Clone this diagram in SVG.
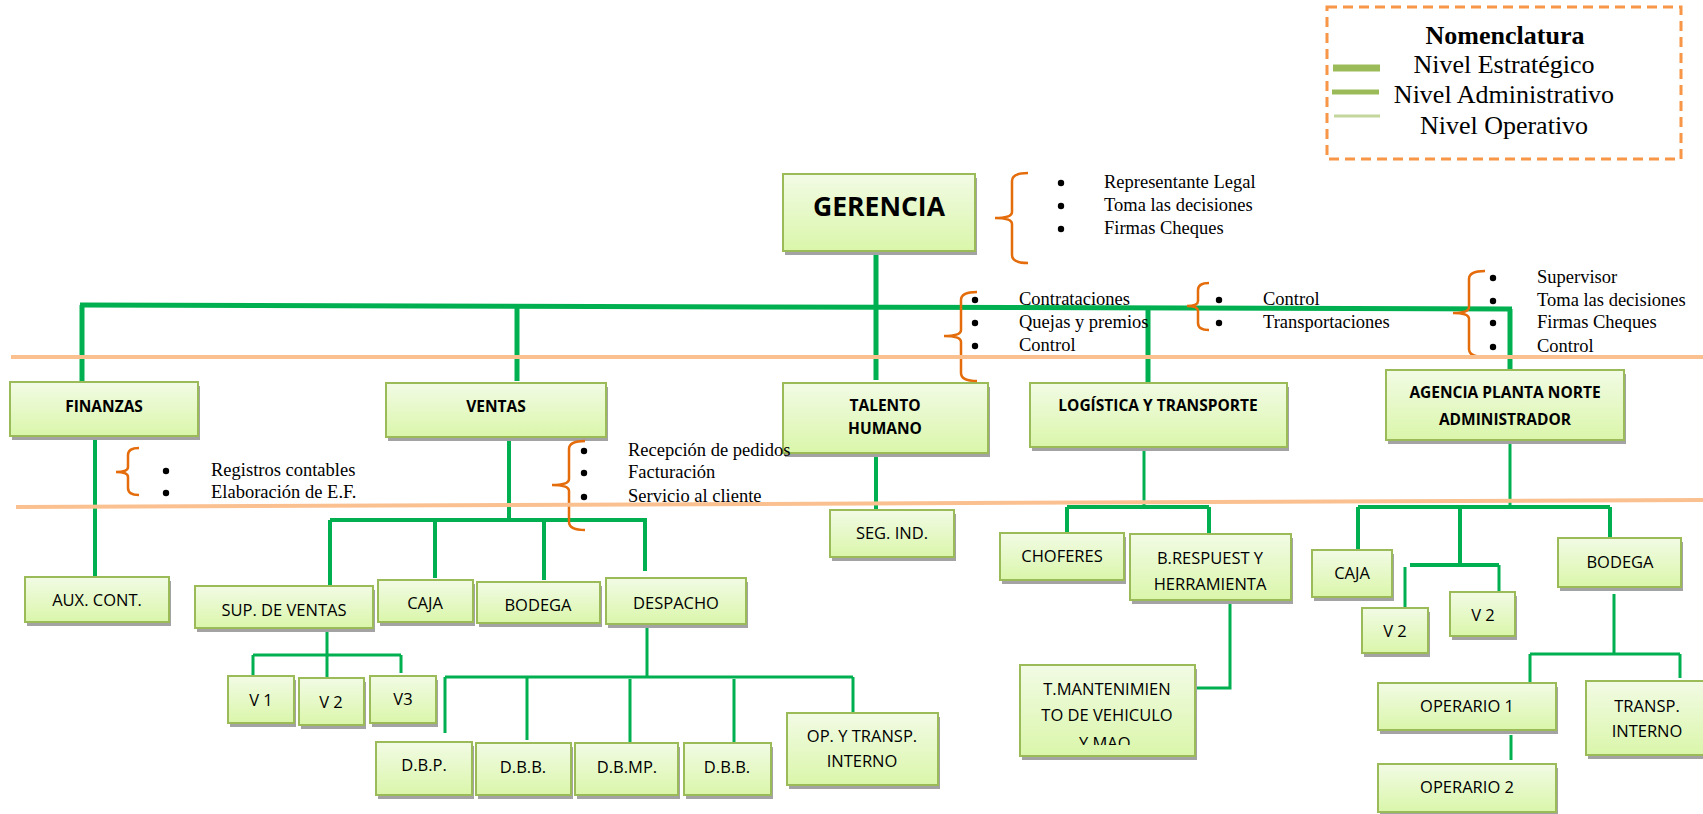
<svg xmlns="http://www.w3.org/2000/svg" width="1703" height="814" viewBox="0 0 1703 814">
<defs>
<linearGradient id="g" x1="0" y1="0" x2="0" y2="1">
<stop offset="0" stop-color="#F2FBE5"/>
<stop offset="1" stop-color="#DAF6AA"/>
</linearGradient>
<clipPath id="clipT"><rect x="1020" y="665" width="175" height="80"/></clipPath>
<style>
.bx{fill:url(#g);stroke:#9BBB59;stroke-width:2}
.sh{fill:#A3A3A3}
.t{font-family:"Open Sans","Liberation Sans",sans-serif;font-size:16.5px;fill:#000;text-anchor:middle}
.tb{font-family:"Open Sans","Liberation Sans",sans-serif;font-size:15.5px;font-weight:bold;fill:#000;text-anchor:middle}
.c{stroke:#00B050;fill:none;stroke-linecap:butt}
.w5{stroke-width:5}
.w4{stroke-width:4}
.w3{stroke-width:3}
.ol{stroke:#FAC090;stroke-width:4;fill:none}
.br{stroke:#E46C0A;stroke-width:2.5;fill:none}
.l{font-family:"Liberation Serif","Times New Roman",serif;font-size:18.5px;fill:#000}
.bu{fill:#000}
.lg{font-family:"Liberation Serif","Times New Roman",serif;font-size:26px;fill:#000;text-anchor:middle}
</style>
</defs>
<rect width="1703" height="814" fill="#FFFFFF"/>

<g id="connectors">
<path class="c w5" d="M876,251 V380"/>
<path class="c w5" d="M80,305 L1512,309"/>
<path class="c w5" d="M82,305 V382"/>
<path class="c w5" d="M517,306 V381"/>
<path class="c w5" d="M1148,308 V382"/>
<path class="c w5" d="M1510,309 V370"/>
<path class="c w4" d="M95,436 V577"/>
<path class="c w4" d="M509,437 V520 M330,520 H647 M330,520 V586 M435,522 V578 M544,522 V580 M645,520 V571"/>
<path class="c w4" d="M876,453 V510"/>
<path class="c w3" d="M1144,447 V505"/>
<path class="c w4" d="M1067,507 H1209 M1067,507 V533 M1209,507 V534"/>
<path class="c w3" d="M1510,440 V507"/>
<path class="c w4" d="M1358,507 H1610 M1358,507 V550 M1460,509 V563 M1610,507 V538"/>
<path class="c w3" d="M327,628 V678 M253,655 H401 M253,655 V676 M401,655 V673"/>
<path class="c w3" d="M647,624 V677 M445,677 H853 M445,677 V733 M527,677 V740 M630,679 V742 M734,679 V742 M853,677 V713"/>
<path class="c w3" d="M1230,600 V688 H1191"/>
<path class="c w4" d="M1410,565 H1499"/>
<path class="c w3" d="M1405,567 V607 M1499,565 V593"/>
<path class="c w3" d="M1614,594 V654 M1530,654 H1680 M1530,654 V682 M1680,654 V678"/>
<path class="c w3" d="M1511,735 V760"/>
</g>

<g id="gerencia"><rect class="sh" x="785" y="178" width="192" height="77"/><rect class="bx" x="783" y="174" width="192" height="77"/><text class="tb" style="font-size:26.5px" x="879" y="216">GERENCIA</text></g>
<g id="finanzas"><rect class="sh" x="12" y="386" width="188" height="54"/><rect class="bx" x="10" y="382" width="188" height="54"/><text class="tb" x="104" y="412">FINANZAS</text></g>
<g id="ventas"><rect class="sh" x="388" y="387" width="220" height="54"/><rect class="bx" x="386" y="383" width="220" height="54"/><text class="tb" x="496" y="412">VENTAS</text></g>
<g id="talento"><rect class="sh" x="785" y="387" width="205" height="70"/><rect class="bx" x="783" y="383" width="205" height="70"/><text class="tb" x="885" y="411">TALENTO</text><text class="tb" x="885" y="434">HUMANO</text></g>
<g id="logistica"><rect class="sh" x="1032" y="387" width="257" height="64"/><rect class="bx" x="1030" y="383" width="257" height="64"/><text class="tb" x="1158" y="411">LOGÍSTICA Y TRANSPORTE</text></g>
<g id="agencia"><rect class="sh" x="1388" y="374" width="238" height="70"/><rect class="bx" x="1386" y="370" width="238" height="70"/><text class="tb" x="1505" y="398">AGENCIA PLANTA NORTE</text><text class="tb" x="1505" y="425">ADMINISTRADOR</text></g>

<g id="aux"><rect class="sh" x="27" y="581" width="144" height="45"/><rect class="bx" x="25" y="577" width="144" height="45"/><text class="t" x="97" y="606">AUX. CONT.</text></g>
<g id="supventas"><rect class="sh" x="197" y="590" width="178" height="42"/><rect class="bx" x="195" y="586" width="178" height="42"/><text class="t" x="284" y="616">SUP. DE VENTAS</text></g>
<g id="caja1"><rect class="sh" x="380" y="584" width="95" height="42"/><rect class="bx" x="378" y="580" width="95" height="42"/><text class="t" x="425" y="609">CAJA</text></g>
<g id="bodega1"><rect class="sh" x="479" y="586" width="123" height="41"/><rect class="bx" x="477" y="582" width="123" height="41"/><text class="t" x="538" y="611">BODEGA</text></g>
<g id="despacho"><rect class="sh" x="608" y="582" width="140" height="46"/><rect class="bx" x="606" y="578" width="140" height="46"/><text class="t" x="676" y="609">DESPACHO</text></g>
<g id="v1"><rect class="sh" x="230" y="680" width="66" height="47"/><rect class="bx" x="228" y="676" width="66" height="47"/><text class="t" x="261" y="706">V 1</text></g>
<g id="v2"><rect class="sh" x="301" y="682" width="65" height="47"/><rect class="bx" x="299" y="678" width="65" height="47"/><text class="t" x="331" y="708">V 2</text></g>
<g id="v3"><rect class="sh" x="372" y="680" width="66" height="47"/><rect class="bx" x="370" y="676" width="66" height="47"/><text class="t" x="403" y="705">V3</text></g>
<g id="dbp"><rect class="sh" x="378" y="746" width="96" height="53"/><rect class="bx" x="376" y="742" width="96" height="53"/><text class="t" x="424" y="771">D.B.P.</text></g>
<g id="dbb1"><rect class="sh" x="478" y="747" width="95" height="52"/><rect class="bx" x="476" y="743" width="95" height="52"/><text class="t" x="523" y="773">D.B.B.</text></g>
<g id="dbmp"><rect class="sh" x="577" y="747" width="103" height="52"/><rect class="bx" x="575" y="743" width="103" height="52"/><text class="t" x="627" y="773">D.B.MP.</text></g>
<g id="dbb2"><rect class="sh" x="686" y="747" width="87" height="52"/><rect class="bx" x="684" y="743" width="87" height="52"/><text class="t" x="727" y="773">D.B.B.</text></g>
<g id="optransp"><rect class="sh" x="789" y="717" width="151" height="72"/><rect class="bx" x="787" y="713" width="151" height="72"/><text class="t" x="862" y="742">OP. Y TRANSP.</text><text class="t" x="862" y="767">INTERNO</text></g>
<g id="segind"><rect class="sh" x="832" y="514" width="124" height="47"/><rect class="bx" x="830" y="510" width="124" height="47"/><text class="t" x="892" y="539">SEG. IND.</text></g>
<g id="choferes"><rect class="sh" x="1002" y="537" width="124" height="47"/><rect class="bx" x="1000" y="533" width="124" height="47"/><text class="t" x="1062" y="562">CHOFERES</text></g>
<g id="brespuest"><rect class="sh" x="1132" y="538" width="161" height="66"/><rect class="bx" x="1130" y="534" width="161" height="66"/><text class="t" x="1210" y="564">B.RESPUEST Y</text><text class="t" x="1210" y="590">HERRAMIENTA</text></g>
<g id="tmant"><rect class="sh" x="1022" y="669" width="175" height="91"/><rect class="bx" x="1020" y="665" width="175" height="91"/><text class="t" x="1107" y="695">T.MANTENIMIEN</text><text class="t" x="1107" y="721">TO DE VEHICULO</text><text class="t" x="1107" y="749" clip-path="url(#clipT)">Y MAQ.</text></g>
<g id="caja2"><rect class="sh" x="1314" y="554" width="80" height="47"/><rect class="bx" x="1312" y="550" width="80" height="47"/><text class="t" x="1352" y="579">CAJA</text></g>
<g id="v2a"><rect class="sh" x="1364" y="612" width="66" height="45"/><rect class="bx" x="1362" y="608" width="66" height="45"/><text class="t" x="1395" y="637">V 2</text></g>
<g id="v2b"><rect class="sh" x="1452" y="596" width="65" height="44"/><rect class="bx" x="1450" y="592" width="65" height="44"/><text class="t" x="1483" y="621">V 2</text></g>
<g id="bodega2"><rect class="sh" x="1560" y="542" width="123" height="49"/><rect class="bx" x="1558" y="538" width="123" height="49"/><text class="t" x="1620" y="568">BODEGA</text></g>
<g id="operario1"><rect class="sh" x="1380" y="687" width="178" height="47"/><rect class="bx" x="1378" y="683" width="178" height="47"/><text class="t" x="1467" y="712">OPERARIO 1</text></g>
<g id="operario2"><rect class="sh" x="1380" y="768" width="178" height="48"/><rect class="bx" x="1378" y="764" width="178" height="48"/><text class="t" x="1467" y="793">OPERARIO 2</text></g>
<g id="transpinterno"><rect class="sh" x="1588" y="685" width="130" height="74"/><rect class="bx" x="1586" y="681" width="130" height="74"/><text class="t" x="1647" y="712">TRANSP.</text><text class="t" x="1647" y="737">INTERNO</text></g>

<g id="notes">
<path class="br" d="M1028,173 Q1012,173 1012,181 L1012,212 Q1012,218 995,218 Q1012,218 1012,224 L1012,255 Q1012,263 1028,263"/>
<circle class="bu" cx="1061" cy="183" r="3.2"/><circle class="bu" cx="1061" cy="206" r="3.2"/><circle class="bu" cx="1061" cy="229" r="3.2"/>
<text class="l" x="1104" y="188">Representante Legal</text>
<text class="l" x="1104" y="211">Toma las decisiones</text>
<text class="l" x="1104" y="234">Firmas Cheques</text>

<path class="br" d="M977,292 Q961,292 961,300 L961,330 Q961,336 944,336 Q961,336 961,342 L961,373 Q961,381 977,381"/>
<circle class="bu" cx="975" cy="300" r="3.2"/><circle class="bu" cx="975" cy="323" r="3.2"/><circle class="bu" cx="975" cy="346" r="3.2"/>
<text class="l" x="1019" y="305">Contrataciones</text>
<text class="l" x="1019" y="328">Quejas y premios</text>
<text class="l" x="1019" y="351">Control</text>

<path class="br" d="M1209,283 Q1198,283 1198,290 L1198,301 Q1198,306 1187,306 Q1198,306 1198,311 L1198,323 Q1198,330 1209,330"/>
<circle class="bu" cx="1219" cy="300" r="3.2"/><circle class="bu" cx="1219" cy="323" r="3.2"/>
<text class="l" x="1263" y="305">Control</text>
<text class="l" x="1263" y="328">Transportaciones</text>

<path class="br" d="M1485,271 Q1469,271 1469,279 L1469,307 Q1469,313 1453,313 Q1469,313 1469,319 L1469,349 Q1469,357 1485,357"/>
<circle class="bu" cx="1493" cy="278" r="3.2"/><circle class="bu" cx="1493" cy="301" r="3.2"/><circle class="bu" cx="1493" cy="323" r="3.2"/><circle class="bu" cx="1493" cy="347" r="3.2"/>
<text class="l" x="1537" y="283">Supervisor</text>
<text class="l" x="1537" y="306">Toma las decisiones</text>
<text class="l" x="1537" y="328">Firmas Cheques</text>
<text class="l" x="1537" y="352">Control</text>

<path class="br" d="M139,448 Q128,448 128,455 L128,467 Q128,472 116,472 Q128,472 128,477 L128,488 Q128,495 139,495"/>
<circle class="bu" cx="166" cy="471" r="3.2"/><circle class="bu" cx="166" cy="493" r="3.2"/>
<text class="l" x="211" y="476">Registros contables</text>
<text class="l" x="211" y="498">Elaboración de E.F.</text>

<path class="br" d="M585,441 Q569,441 569,449 L569,479 Q569,485 552,485 Q569,485 569,491 L569,522 Q569,530 585,530"/>
<circle class="bu" cx="584" cy="451" r="3.2"/><circle class="bu" cx="584" cy="473" r="3.2"/><circle class="bu" cx="584" cy="497" r="3.2"/>
<text class="l" x="628" y="456">Recepción de pedidos</text>
<text class="l" x="628" y="478">Facturación</text>
<text class="l" x="628" y="502">Servicio al cliente</text>
</g>

<g id="levels">
<path class="ol" d="M11,357 L1703,357"/>
<path class="ol" d="M16,507 L1703,500"/>
</g>

<g id="legend">
<rect x="1327" y="7" width="354" height="152" fill="none" stroke="#F79646" stroke-width="3" stroke-dasharray="10 6"/>
<text class="lg" style="font-weight:bold" x="1505" y="44">Nomenclatura</text>
<text class="lg" x="1504" y="73">Nivel Estratégico</text>
<text class="lg" x="1504" y="103">Nivel Administrativo</text>
<text class="lg" x="1504" y="134">Nivel Operativo</text>
<path d="M1333,68 H1380" stroke="#9BBB59" stroke-width="7"/>
<path d="M1332,92 H1379" stroke="#9BBB59" stroke-width="5"/>
<path d="M1334,116 H1380" stroke="#C3D69B" stroke-width="3"/>
</g>
</svg>
